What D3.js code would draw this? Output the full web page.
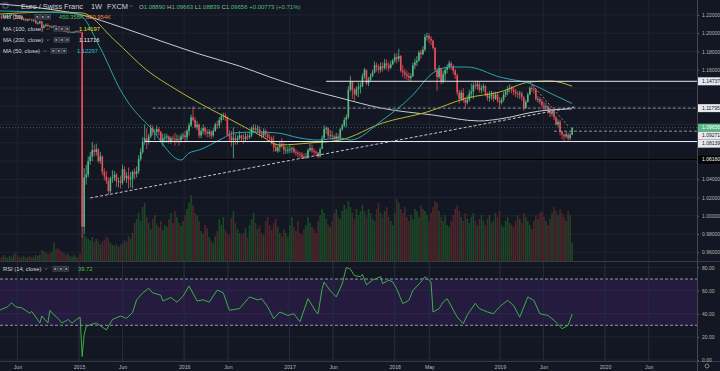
<!DOCTYPE html>
<html>
<head>
<meta charset="utf-8">
<script src="https://cdn.jsdelivr.net/npm/d3@7"></script>
<style>
  body { margin: 0; background: #131722; }
  svg { display: block; font-family: "Liberation Sans", Arial, sans-serif; }
</style>
</head>
<body>
<svg id="chart" width="720" height="371"></svg>
<script>
// weekly EUR/CHF bars, first bar = week of 31 Mar 2014, open of each bar = previous close
const firstWeek = Date.UTC(2014, 2, 31);
const firstOpen = 1.2190;

const closes = [
  1.2180,1.2170,1.2195,1.2175,1.2195,1.2200,1.2205,1.2205,1.2180,1.2170,
  1.2185,1.2155,1.2155,1.2140,1.2155,1.2150,1.2140,1.2140,1.2110,1.2110,
  1.2130,1.2060,1.2080,1.2090,1.2080,1.2070,1.2070,1.2080,1.2070,1.2060,
  1.2050,1.2030,1.2025,1.2015,1.2015,1.2010,1.2010,1.2010,1.2020,1.2015,
  1.2010,0.9880,1.0420,1.0450,1.0600,1.0650,1.0720,1.0700,1.0730,1.0600,
  1.0650,1.0480,1.0430,1.0380,1.0270,1.0410,1.0420,1.0450,1.0380,1.0380,
  1.0360,1.0510,1.0410,1.0440,1.0400,1.0410,1.0480,1.0460,1.0490,1.0620,
  1.0700,1.0810,1.0850,1.0820,1.0870,1.0960,1.0920,1.0920,1.0950,1.0920,
  1.0810,1.0850,1.0860,1.0870,1.0820,1.0850,1.0840,1.0830,1.0840,1.0830,
  1.0870,1.0880,1.0860,1.0930,1.0990,1.1080,1.1050,1.0970,1.1000,1.0880,
  1.0930,1.0960,1.0920,1.0900,1.0920,1.0880,1.0930,1.1000,1.0990,1.1050,
  1.1090,1.1100,1.1080,1.0890,1.0870,1.0830,1.0850,1.0830,1.0850,1.0880,
  1.0850,1.0840,1.0870,1.0860,1.0880,1.0960,1.0960,1.0940,1.0950,1.0900,
  1.0880,1.0930,1.0890,1.0860,1.0850,1.0790,1.0750,1.0710,1.0750,1.0780,
  1.0760,1.0720,1.0720,1.0720,1.0730,1.0740,1.0700,1.0690,1.0680,1.0670,
  1.0650,1.0640,1.0650,1.0720,1.0740,1.0710,1.0700,1.0690,1.0650,1.0730,
  1.0850,1.0950,1.0960,1.0880,1.0880,1.0870,1.0850,1.0870,1.0850,1.0950,
  1.0990,1.1050,1.1080,1.1380,1.1470,1.1380,1.1330,1.1390,1.1410,1.1420,
  1.1530,1.1600,1.1450,1.1490,1.1530,1.1570,1.1650,1.1630,1.1600,1.1640,
  1.1620,1.1670,1.1650,1.1620,1.1660,1.1700,1.1740,1.1720,1.1750,1.1590,
  1.1570,1.1550,1.1530,1.1510,1.1530,1.1650,1.1680,1.1700,1.1790,1.1770,
  1.1820,1.1960,1.1970,1.1940,1.1920,1.1840,1.1600,1.1520,1.1620,1.1470,
  1.1550,1.1600,1.1630,1.1670,1.1640,1.1590,1.1540,1.1350,1.1280,1.1350,
  1.1270,1.1240,1.1270,1.1340,1.1360,1.1430,1.1420,1.1440,1.1380,1.1400,
  1.1420,1.1340,1.1290,1.1310,1.1330,1.1280,1.1330,1.1260,1.1240,1.1270,
  1.1330,1.1360,1.1390,1.1400,1.1380,1.1360,1.1340,1.1330,1.1340,1.1300,
  1.1180,1.1250,1.1330,1.1400,1.1390,1.1380,1.1280,1.1280,1.1250,1.1210,
  1.1190,1.1200,1.1160,1.1120,1.1140,1.1080,1.1000,1.1030,1.0920,1.0890,
  1.0870,1.0890,1.0850,1.0889,1.09656
];

const highs = [
  1.2210,1.2200,1.2210,1.2205,1.2210,1.2215,1.2220,1.2215,1.2210,1.2200,
  1.2195,1.2190,1.2170,1.2165,1.2160,1.2165,1.2160,1.2160,1.2150,1.2130,
  1.2140,1.2135,1.2100,1.2105,1.2110,1.2090,1.2085,1.2090,1.2090,1.2080,
  1.2070,1.2060,1.2040,1.2035,1.2025,1.2025,1.2020,1.2025,1.2030,1.2030,
  1.2025,1.2015,1.0520,1.0560,1.0650,1.0700,1.0810,1.0780,1.0790,1.0740,
  1.0700,1.0660,1.0520,1.0490,1.0420,1.0430,1.0500,1.0490,1.0470,1.0420,
  1.0440,1.0560,1.0540,1.0480,1.0530,1.0480,1.0500,1.0520,1.0540,1.0660,
  1.0740,1.0860,1.1000,1.0960,1.0900,1.1000,1.0990,1.0950,1.0990,1.0970,
  1.0930,1.0900,1.0900,1.0900,1.0880,1.0870,1.0880,1.0910,1.0890,1.0880,
  1.0900,1.0910,1.0930,1.0950,1.1020,1.1110,1.1200,1.1080,1.1040,1.1010,
  1.0960,1.1000,1.0980,1.0950,1.0950,1.0940,1.0960,1.1020,1.1040,1.1080,
  1.1120,1.1130,1.1130,1.1090,1.0940,1.0930,1.0970,1.0900,1.0880,1.0930,
  1.0890,1.0900,1.0910,1.0900,1.0920,1.0980,1.1000,1.1000,1.0990,1.0980,
  1.0930,1.0960,1.0950,1.0920,1.0900,1.0870,1.0880,1.0790,1.0770,1.0820,
  1.0850,1.0800,1.0760,1.0760,1.0780,1.0760,1.0760,1.0730,1.0710,1.0700,
  1.0700,1.0680,1.0690,1.0740,1.0790,1.0780,1.0740,1.0720,1.0700,1.0750,
  1.0880,1.0990,1.0980,1.0970,1.0940,1.0930,1.0890,1.0910,1.0900,1.0960,
  1.1010,1.1080,1.1110,1.1420,1.1530,1.1470,1.1400,1.1420,1.1460,1.1460,
  1.1560,1.1620,1.1600,1.1520,1.1560,1.1600,1.1690,1.1680,1.1660,1.1680,
  1.1680,1.1720,1.1710,1.1680,1.1700,1.1720,1.1780,1.1780,1.1830,1.1760,
  1.1650,1.1610,1.1590,1.1570,1.1560,1.1680,1.1720,1.1750,1.1810,1.1820,
  1.1860,1.1990,1.2005,1.2000,1.1970,1.1930,1.1850,1.1620,1.1650,1.1620,
  1.1590,1.1620,1.1660,1.1700,1.1690,1.1660,1.1610,1.1560,1.1380,1.1380,
  1.1400,1.1300,1.1320,1.1380,1.1450,1.1460,1.1470,1.1480,1.1470,1.1430,
  1.1450,1.1430,1.1350,1.1370,1.1370,1.1360,1.1360,1.1350,1.1300,1.1300,
  1.1360,1.1380,1.1420,1.1440,1.1420,1.1420,1.1390,1.1370,1.1370,1.1360,
  1.1310,1.1270,1.1350,1.1420,1.1430,1.1420,1.1390,1.1310,1.1300,1.1280,
  1.1250,1.1240,1.1210,1.1180,1.1170,1.1150,1.1090,1.1060,1.1050,1.0930,
  1.0900,1.0920,1.0910,1.0910,1.09663
];

const lows = [
  1.2170,1.2150,1.2160,1.2170,1.2165,1.2180,1.2190,1.2195,1.2175,1.2155,
  1.2160,1.2145,1.2140,1.2130,1.2130,1.2140,1.2130,1.2125,1.2100,1.2095,
  1.2100,1.2055,1.2055,1.2070,1.2070,1.2060,1.2055,1.2060,1.2050,1.2055,
  1.2040,1.2020,1.2015,1.2010,1.2010,1.2005,1.2005,1.2005,1.2010,1.2005,
  1.2005,0.9760,0.9800,1.0340,1.0420,1.0560,1.0600,1.0650,1.0660,1.0580,
  1.0570,1.0450,1.0390,1.0350,1.0230,1.0250,1.0360,1.0380,1.0320,1.0310,
  1.0300,1.0340,1.0380,1.0360,1.0300,1.0310,1.0300,1.0400,1.0420,1.0460,
  1.0600,1.0680,1.0780,1.0730,1.0780,1.0850,1.0880,1.0830,1.0880,1.0880,
  1.0800,1.0760,1.0800,1.0800,1.0790,1.0790,1.0810,1.0770,1.0800,1.0770,
  1.0800,1.0840,1.0800,1.0820,1.0880,1.0970,1.1030,1.0960,1.0940,1.0850,
  1.0850,1.0890,1.0880,1.0860,1.0860,1.0840,1.0860,1.0920,1.0950,1.0960,
  1.1020,1.1050,1.1040,1.0870,1.0820,1.0760,1.0630,1.0780,1.0780,1.0830,
  1.0810,1.0790,1.0810,1.0830,1.0840,1.0860,1.0910,1.0920,1.0910,1.0870,
  1.0850,1.0860,1.0860,1.0840,1.0810,1.0780,1.0700,1.0700,1.0690,1.0700,
  1.0740,1.0670,1.0680,1.0680,1.0690,1.0690,1.0680,1.0660,1.0640,1.0630,
  1.0620,1.0620,1.0610,1.0630,1.0700,1.0690,1.0670,1.0650,1.0630,1.0640,
  1.0820,1.0840,1.0900,1.0850,1.0850,1.0830,1.0810,1.0830,1.0820,1.0830,
  1.0930,1.0970,1.0970,1.1060,1.1360,1.1280,1.1260,1.1310,1.1300,1.1340,
  1.1410,1.1500,1.1430,1.1420,1.1470,1.1520,1.1560,1.1580,1.1560,1.1570,
  1.1580,1.1600,1.1600,1.1580,1.1610,1.1650,1.1680,1.1670,1.1690,1.1570,
  1.1520,1.1500,1.1490,1.1480,1.1470,1.1520,1.1610,1.1640,1.1690,1.1720,
  1.1760,1.1800,1.1920,1.1890,1.1870,1.1820,1.1580,1.1370,1.1500,1.1440,
  1.1450,1.1480,1.1560,1.1610,1.1600,1.1550,1.1500,1.1320,1.1230,1.1260,
  1.1240,1.1170,1.1220,1.1250,1.1290,1.1280,1.1390,1.1380,1.1350,1.1340,
  1.1360,1.1310,1.1260,1.1250,1.1270,1.1250,1.1270,1.1240,1.1180,1.1220,
  1.1250,1.1300,1.1320,1.1350,1.1340,1.1320,1.1300,1.1290,1.1280,1.1260,
  1.1150,1.1170,1.1240,1.1320,1.1360,1.1340,1.1260,1.1240,1.1220,1.1180,
  1.1150,1.1160,1.1120,1.1080,1.1090,1.1050,1.0990,1.0970,1.0880,1.0840,
  1.0820,1.0850,1.0815,1.0830,1.08839
];

// weekly volume, thousands
const volumes = [
  120,90,150,110,80,130,100,170,220,140, 90,110,130,80,100,120,90,110,150,130,
  160,280,250,200,170,190,240,460,300,320, 260,230,200,150,180,120,110,160,100,90,
  190,620,650,600,560,520,600,480,550,500, 420,480,520,600,560,450,400,380,420,360,
  400,450,520,480,620,560,700,950,1050,1200, 1000,1350,1450,1100,950,800,1050,1150,900,850,
  1000,780,900,850,1050,1200,950,1250,1100,950, 880,1000,1150,1300,1450,1650,1400,1200,1150,1000,
  750,680,900,820,600,500,450,620,750,1050, 900,1100,780,700,650,1080,1250,950,800,700,
  650,700,820,600,900,1050,1200,950,800,880, 700,650,1000,1100,900,780,950,1050,850,700,
  620,800,700,600,900,1100,850,750,1000,700, 650,800,900,1100,950,850,800,700,1000,1150,
  1300,1200,1050,900,850,1000,1200,1300,1100,1050, 1250,1400,1300,1500,1350,1200,1050,1300,1150,1250,
  1400,1250,1100,1300,1200,1050,1000,1300,1450,1200, 1100,1250,1350,1100,1000,900,1200,1550,1450,1300,
  1200,1350,1100,1000,1150,1050,1300,1250,1100,1400, 1300,1250,1150,1000,1200,1350,1500,1450,1250,1100,
  1000,1150,900,850,1000,1150,1300,1400,1250,1100, 1000,1200,1050,950,1100,1200,1000,900,1050,1150,
  1000,900,1050,1150,950,1000,1200,1100,1250,900, 850,1000,1100,950,900,850,1000,1150,1050,950,
  1200,1100,1000,900,800,1000,1150,1050,1200,1250, 1100,1000,900,1050,1200,1350,1250,1150,1300,1200,
  1100,1000,1250,1150,450
];

// moving averages: [week index, price]
const ma50 = [[0,1.2244],[20,1.2233],[39,1.2211],[50,1.1838],[60,1.1378],[63,1.1269],[75,1.0962],
  [90,1.0611],[94,1.0688],[99,1.0721],[111,1.0852],[116,1.0907],[128,1.0918],[138,1.0907],[149,1.0852],
  [158,1.0830],[169,1.0852],[174,1.0830],[190,1.1050],[204,1.1302],[215,1.1565],[223,1.1630],
  [232,1.1630],[248,1.1521],[265,1.1433],[273,1.1345],[284,1.1230]];
const ma100 = [[0,1.2211],[28,1.2233],[41,1.2222],[57,1.1926],[73,1.1597],[88,1.1378],[99,1.1236],
  [114,1.1061],[129,1.0885],[139,1.0776],[154,1.0798],[169,1.0830],[190,1.1017],[212,1.1137],
  [232,1.1291],[248,1.1356],[263,1.1466],[273,1.1477],[284,1.1420]];
const ma200 = [[0,1.2321],[20,1.2277],[41,1.2200],[60,1.2069],[80,1.1915],[99,1.1773],[119,1.1641],
  [134,1.1521],[149,1.1411],[169,1.1291],[189,1.1181],[215,1.1104],[238,1.1039],[248,1.1061],
  [268,1.1148],[284,1.1172]];

// RSI(14): [week index, value]
const rsiPoints = [[0,43],[4,46],[6,49.5],[8,46],[11,45],[15,40.6],[16,42],[19,34.6],[20,32],[21,38],
  [24,32],[25,43],[27,39],[29,36],[31,32],[34,35],[36,32],[39,36],[40,37],[41,3],[42,22],[43,29],
  [45,30.5],[48,32],[53,26],[56,35],[60,38],[63,36],[66,41],[68,52],[71,58],[74,62],[76,58],[80,56],
  [81,51],[85,54],[88,50],[91,55],[94,64],[98,51],[101,52],[104,50],[108,60.5],[111,58],[114,43],
  [119,44.4],[124,54.5],[128,52],[130,53],[133,46],[136,35.7],[139,41.5],[143,38.5],[146,40],[149,33],
  [153,53],[157,41.5],[158,40],[160,61.6],[161,67.4],[164,60],[167,54.5],[170,66],[172,80],[174,78.6],
  [176,73],[179,72],[180,74],[182,65],[185,69],[189,72],[190,66],[193,69],[195,67.5],[197,61.6],
  [200,48.7],[203,51.5],[205,60],[209,67.5],[211,72],[214,67.5],[215,41.5],[218,44.4],[220,50],
  [222,53],[227,37],[230,31.4],[232,39],[236,49],[238,44.4],[242,41.5],[245,40],[248,46],[252,51.5],
  [255,47],[258,37],[262,54.5],[265,51.5],[268,40],[272,38.5],[275,34.4],[279,27],[282,30],[284,39.72]];

// drawn levels and trend lines
const levelPrices = [1.14737, 1.11795, 1.09271, 1.08139, 1.06160];
const levelFrom = [162, 76, 275, 72, 99];
const trendUp = [[45,1.0195],[285,1.1192]];
const trendDown = [[263,1.1466],[282,1.0984]];

const priceTicks = [0.96,0.98,1.00,1.02,1.04,1.06,1.08,1.10,1.12,1.14,1.16,1.18,1.20,1.22];
const rsiTicks = [0,20,40,60,80];
const timeTickDates = [[2014,5],[2015,0],[2015,5],[2016,0],[2016,5],[2017,0],[2017,5],[2018,0],[2018,4],[2019,0],[2019,5],[2020,0],[2020,5]];
const timeTickLabels = ["Jun","2015","Jun","2016","Jun","2017","Jun","2018","May","2019","Jun","2020","Jun"];

const DAY = 864e5;
const bars = closes.map((c, i) => ({
  i: i,
  o: i ? closes[i - 1] : firstOpen,
  h: highs[i], l: lows[i], c: c, v: volumes[i]
}));
const lastClose = closes[closes.length - 1];

const plotW = 697, mainBottom = 261, rsiTop = 262, rsiBottom = 361;

let x = d3.scaleUtc().domain([new Date(Date.UTC(2015,0,1)), new Date(Date.UTC(2020,0,1))]).range([79, 605]),
    y = d3.scaleLinear().domain([0.96, 1.22]).range([252.3, 15]),
    yRsi = d3.scaleLinear().domain([0, 70]).range([360, 279]),
    yVol = d3.scaleLinear().domain([0, 1650]).range([mainBottom, 195]);

const wx = i => x(new Date(firstWeek + i * 7 * DAY));
const tickDates = timeTickDates.map(d => new Date(Date.UTC(d[0], d[1], 1)));

const up = "#53b987", down = "#eb4d5c", grid = "#1f2330";

let svg = d3.select("#chart");
svg.append("rect").attr("width", 720).attr("height", 371).attr("fill", "#131722");

let defs = svg.append("defs");
defs.append("clipPath").attr("id", "clipMain").append("rect").attr("width", plotW).attr("height", mainBottom);
defs.append("clipPath").attr("id", "clipRsi").append("rect").attr("y", rsiTop).attr("width", plotW).attr("height", rsiBottom - rsiTop);

// grid
let gridG = svg.append("g");
gridG.selectAll("line.h").data(priceTicks).join("line")
  .attr("x1", 0).attr("x2", plotW).attr("y1", d => y(d)).attr("y2", d => y(d))
  .attr("stroke", grid).attr("stroke-width", 1);
gridG.selectAll("line.r").data(rsiTicks).join("line")
  .attr("x1", 0).attr("x2", plotW).attr("y1", d => yRsi(d)).attr("y2", d => yRsi(d))
  .attr("stroke", grid).attr("stroke-width", 1);
gridG.selectAll("line.v").data(tickDates).join("line")
  .attr("x1", d => x(d)).attr("x2", d => x(d)).attr("y1", 0).attr("y2", rsiBottom)
  .attr("stroke", grid).attr("stroke-width", 1);

// main pane
let main = svg.append("g").attr("clip-path", "url(#clipMain)");

main.selectAll("rect.vol").data(bars).join("rect")
  .attr("x", d => wx(d.i) - 0.8).attr("width", 1.6)
  .attr("y", d => yVol(d.v)).attr("height", d => mainBottom - yVol(d.v))
  .attr("fill", d => d.c >= d.o ? "#1b4826" : "#4e252c");

let candles = main.append("g");
candles.selectAll("line").data(bars).join("line")
  .attr("x1", d => wx(d.i)).attr("x2", d => wx(d.i))
  .attr("y1", d => y(d.h)).attr("y2", d => y(d.l))
  .attr("stroke", d => d.c >= d.o ? up : down).attr("stroke-width", 0.8);
candles.selectAll("rect").data(bars).join("rect")
  .attr("x", d => wx(d.i) - 0.8).attr("width", 1.6)
  .attr("y", d => y(Math.max(d.o, d.c)))
  .attr("height", d => Math.max(0.7, Math.abs(y(d.o) - y(d.c))))
  .attr("fill", d => d.c >= d.o ? up : down);

let maLine = d3.line().x(d => wx(d[0])).y(d => y(d[1])).curve(d3.curveMonotoneX);
main.append("path").datum(ma200).attr("d", maLine).attr("fill", "none").attr("stroke", "#c9cbd1").attr("stroke-width", 1);
main.append("path").datum(ma100).attr("d", maLine).attr("fill", "none").attr("stroke", "#b9b634").attr("stroke-width", 1);
main.append("path").datum(ma50).attr("d", maLine).attr("fill", "none").attr("stroke", "#27a6b3").attr("stroke-width", 1);

// drawings
const levelColor = ["#e6e8ee", "#8d909a", "#8d909a", "#e6e8ee", "#000000"];
const levelDash = [null, "3,2", "3,2", null, null];
main.selectAll("line.lvl").data(levelPrices).join("line")
  .attr("x1", (d, k) => wx(levelFrom[k])).attr("x2", plotW)
  .attr("y1", d => y(d)).attr("y2", d => y(d))
  .attr("stroke", (d, k) => levelColor[k])
  .attr("stroke-dasharray", (d, k) => levelDash[k])
  .attr("stroke-width", 1);

let seg = d3.line().x(d => wx(d[0])).y(d => y(d[1]));
main.append("path").attr("d", seg(trendUp)).attr("stroke", "#c3c6ce").attr("stroke-width", 1).attr("stroke-dasharray", "3,2").attr("fill", "none");
main.append("path").attr("d", seg(trendDown)).attr("stroke", "#8d909a").attr("stroke-width", 1).attr("stroke-dasharray", "2,2").attr("fill", "none");

main.append("line").attr("x1", 0).attr("x2", plotW).attr("y1", y(lastClose)).attr("y2", y(lastClose))
  .attr("stroke", up).attr("stroke-opacity", 0.5).attr("stroke-dasharray", "1,2");

// RSI pane
let rsiG = svg.append("g").attr("clip-path", "url(#clipRsi)");
rsiG.append("rect").attr("x", 0).attr("width", plotW)
  .attr("y", yRsi(70)).attr("height", yRsi(30) - yRsi(70)).attr("fill", "#241c3f");
rsiG.selectAll("line.band").data([70, 30]).join("line")
  .attr("x1", 0).attr("x2", plotW).attr("y1", d => yRsi(d)).attr("y2", d => yRsi(d))
  .attr("stroke", "#b4b7c0").attr("stroke-width", 0.8).attr("stroke-dasharray", "3,2");
rsiG.selectAll("line.g").data([40, 60]).join("line")
  .attr("x1", 0).attr("x2", plotW).attr("y1", d => yRsi(d)).attr("y2", d => yRsi(d))
  .attr("stroke", "#2d2650").attr("stroke-width", 1);
rsiG.selectAll("line.v").data(tickDates).join("line")
  .attr("x1", d => x(d)).attr("x2", d => x(d)).attr("y1", rsiTop).attr("y2", rsiBottom)
  .attr("stroke", "#2a2744").attr("stroke-width", 1);
rsiG.append("path").datum(rsiPoints)
  .attr("d", d3.line().x(d => wx(d[0])).y(d => yRsi(d[1])))
  .attr("fill", "none").attr("stroke", "#3fae49").attr("stroke-width", 1);

// pane separators
svg.append("line").attr("x1", 0).attr("x2", 720).attr("y1", 261.5).attr("y2", 261.5).attr("stroke", "#363a45");
svg.append("line").attr("x1", 0).attr("x2", 720).attr("y1", 361.5).attr("y2", 361.5).attr("stroke", "#363a45");

// price tags on the axis (drawings + last close), pushed apart when they collide
let tags = levelPrices.map((p, k) => ({ p: p, fill: k === 4 ? "#000000" : "#e6e8ee", text: k === 4 ? "#ffffff" : "#131722" }));
tags.push({ p: lastClose, fill: up, text: "#ffffff" });
tags.sort((a, b) => b.p - a.p);
let lastY = -99;
tags.forEach(t => { t.cy = Math.max(y(t.p), lastY + 8); lastY = t.cy; });

// right price axis, skipping ticks hidden under a tag
let axisFont = "5px";
let freeTicks = priceTicks.filter(p => tags.every(t => Math.abs(y(p) - t.cy) > 7));
let yAxis = svg.append("g").attr("transform", "translate(" + plotW + ",0)")
  .call(d3.axisRight(y).tickValues(freeTicks).tickFormat(d3.format(".5f")).tickSize(2).tickPadding(3));
let rAxis = svg.append("g").attr("transform", "translate(" + plotW + ",0)")
  .call(d3.axisRight(yRsi).tickValues(rsiTicks).tickFormat(d3.format(".2f")).tickSize(2).tickPadding(3));
[yAxis, rAxis].forEach(a => {
  a.select(".domain").remove();
  a.selectAll("line").attr("stroke", "#6a6d78");
  a.selectAll("text").attr("fill", "#b2b5be").style("font-size", axisFont).style("font-family", "Liberation Sans, Arial, sans-serif");
});
svg.append("line").attr("x1", plotW + 0.5).attr("x2", plotW + 0.5).attr("y1", 0).attr("y2", 371).attr("stroke", "#434651");

let tagG = svg.append("g").selectAll("g").data(tags).join("g")
  .attr("transform", d => "translate(" + (plotW + 1) + "," + d.cy + ")");
tagG.append("rect").attr("x", 0).attr("y", -4).attr("width", 23).attr("height", 8).attr("fill", d => d.fill);
tagG.append("text").attr("x", 4).attr("dy", "0.35em").attr("fill", d => d.text)
  .style("font-size", axisFont).text(d => d3.format(".5f")(d.p));

// time axis
let xAxis = svg.append("g").attr("transform", "translate(0,362)")
  .call(d3.axisBottom(x).tickValues(tickDates).tickFormat((d, k) => timeTickLabels[k]).tickSize(0).tickPadding(3));
xAxis.select(".domain").remove();
xAxis.selectAll("text").attr("fill", "#b2b5be").style("font-size", "5.2px").style("font-family", "Liberation Sans, Arial, sans-serif");

// settings gear
svg.append("circle").attr("cx", 707).attr("cy", 366).attr("r", 2).attr("fill", "none").attr("stroke", "#9598a1").attr("stroke-width", 0.8);

// legend
let legend = svg.append("g");
function txt(xp, yp, s, color, size) {
  return legend.append("text").attr("x", xp).attr("y", yp).attr("fill", color)
    .style("font-size", size || "5.8px").text(s);
}
function icons(xp, yp) {
  for (let k = 0; k < 3; k++) {
    legend.append("rect").attr("x", xp + k * 5.5).attr("y", yp - 2.4).attr("width", 4.6).attr("height", 4.6)
      .attr("fill", "#2a2e39").attr("stroke", "#5d606b").attr("stroke-width", 0.5);
    legend.append("rect").attr("x", xp + k * 5.5 + 1.4).attr("y", yp - 1).attr("width", 1.8).attr("height", 1.8)
      .attr("fill", "#9598a1");
  }
}
function chevron(xp, yp) {
  legend.append("path").attr("d", "M" + (xp - 1.3) + "," + (yp - 0.6) + "l1.3,1.3l1.3,-1.3")
    .attr("fill", "none").attr("stroke", "#9598a1").attr("stroke-width", 0.6);
}

legend.append("rect").attr("x", 3).attr("y", 3).attr("width", 5).attr("height", 5).attr("rx", 0.8)
  .attr("fill", "none").attr("stroke", "#9598a1").attr("stroke-width", 0.6);
txt(21, 9, "Euro / Swiss Franc", "#d1d4dc", "7.4px");
txt(91, 9, "1W", "#d1d4dc", "7.4px");
txt(107, 9, "FXCM", "#d1d4dc", "7.4px");
chevron(131, 6);
let ohlc = legend.append("text").attr("x", 139).attr("y", 8.6).style("font-size", "6px").attr("xml:space", "preserve");
[["O", "1.08890 "], ["H", "1.09663 "], ["L", "1.08839 "], ["C", "1.09656 "], ["", "+0.00773 (+0.71%)"]].forEach(p => {
  ohlc.append("tspan").attr("fill", "#b2b5be").text(p[0]);
  ohlc.append("tspan").attr("fill", up).text(p[1]);
});

txt(3, 19, "Vol (20)", "#d1d4dc");
icons(35, 17);
txt(59, 19, "450.358K", "#4cbf50");
txt(86, 19, "850.954K", "#e3893a");

txt(3, 31, "MA (100, close)", "#d1d4dc");
chevron(48, 29);
icons(54, 29);
txt(79, 31, "1.14197", "#e6e319");

txt(3, 42, "MA (200, close)", "#d1d4dc");
chevron(48, 40);
icons(54, 40);
txt(79, 42, "1.11716", "#f0f0f0");

txt(3, 53, "MA (50, close)", "#d1d4dc");
chevron(45, 51);
icons(51, 51);
txt(77, 53, "1.12297", "#26c0cf");

txt(3, 271, "RSI (14, close)", "#d1d4dc");
chevron(46, 269);
icons(53, 269);
txt(78, 271, "39.72", "#4cbf50");
</script>
</body>
</html>
